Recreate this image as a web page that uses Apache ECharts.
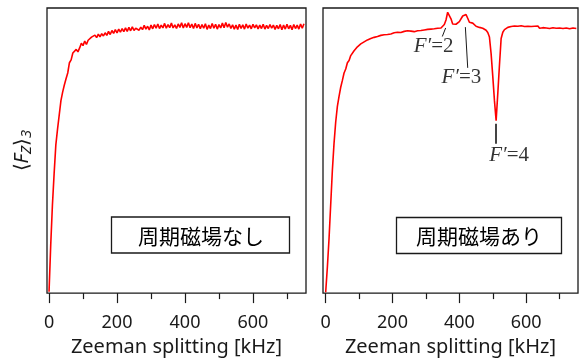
<!DOCTYPE html>
<html>
<head>
<meta charset="utf-8">
<script src="https://cdn.jsdelivr.net/npm/echarts@6/dist/echarts.min.js"></script>
<style>
  html, body { margin: 0; padding: 0; background: #fff; }
  #chart { width: 579px; height: 362px; }
</style>
</head>
<body>
<div id="chart"></div>
<script>
// Zeeman splitting sweep (kHz), shared by both panels
const splitting = [
  0, 5, 10, 15, 20, 25, 30, 35, 40, 45, 50, 55, 60, 65, 70, 75, 80, 85, 90, 95,
  100, 105, 110, 115, 120, 125, 130, 135, 140, 145, 150, 155, 160, 165, 170, 175, 180, 185, 190, 195,
  200, 205, 210, 215, 220, 225, 230, 235, 240, 245, 250, 255, 260, 265, 270, 275, 280, 285, 290, 295,
  300, 305, 310, 315, 320, 325, 330, 335, 340, 345, 350, 355, 360, 365, 370, 375, 380, 385, 390, 395,
  400, 405, 410, 415, 420, 425, 430, 435, 440, 445, 450, 455, 460, 465, 470, 475, 480, 485, 490, 495,
  500, 505, 510, 515, 520, 525, 530, 535, 540, 545, 550, 555, 560, 565, 570, 575, 580, 585, 590, 595,
  600, 605, 610, 615, 620, 625, 630, 635, 640, 645, 650, 655, 660, 665, 670, 675, 680, 685, 690, 695,
  700, 705, 710, 715, 720, 725, 730, 735, 740, 745, 750
];

// <Fz>_3 without the periodic field (normalised units)
const fzWithout = [
  0.005, 0.17, 0.31, 0.42, 0.52, 0.575, 0.625, 0.675, 0.705, 0.73, 0.752, 0.772, 0.808, 0.818, 0.842, 0.838, 0.855, 0.846, 0.86, 0.876,
  0.868, 0.884, 0.872, 0.887, 0.881, 0.898, 0.892, 0.905, 0.896, 0.908, 0.899, 0.91, 0.902, 0.913, 0.904, 0.918, 0.907, 0.921, 0.911, 0.924,
  0.913, 0.926, 0.915, 0.928, 0.917, 0.93, 0.918, 0.932, 0.92, 0.934, 0.921, 0.929, 0.936, 0.922, 0.933, 0.924, 0.939, 0.926, 0.936, 0.923,
  0.94, 0.927, 0.942, 0.929, 0.944, 0.928, 0.94, 0.93, 0.946, 0.929, 0.942, 0.931, 0.947, 0.93, 0.941, 0.928, 0.944, 0.932, 0.948, 0.93,
  0.945, 0.932, 0.948, 0.931, 0.944, 0.928, 0.946, 0.93, 0.943, 0.927, 0.942, 0.929, 0.945, 0.925, 0.94, 0.928, 0.946, 0.929, 0.943, 0.926,
  0.942, 0.93, 0.947, 0.931, 0.949, 0.933, 0.944, 0.928, 0.941, 0.926, 0.94, 0.925, 0.943, 0.928, 0.941, 0.926, 0.944, 0.929, 0.94, 0.927,
  0.943, 0.93, 0.941, 0.927, 0.94, 0.928, 0.943, 0.926, 0.939, 0.928, 0.942, 0.929, 0.94, 0.925, 0.939, 0.927, 0.942, 0.924, 0.94, 0.926,
  0.943, 0.927, 0.939, 0.924, 0.942, 0.928, 0.94, 0.926, 0.944, 0.929, 0.945
];

// <Fz>_3 with the periodic field: F'=2, F'=3 peaks and F'=4 dip
const fzWith = [
  0.003, 0.09, 0.19, 0.31, 0.43, 0.525, 0.6, 0.655, 0.69, 0.722, 0.746, 0.772, 0.786, 0.808, 0.816, 0.833, 0.836, 0.85, 0.851, 0.864,
  0.865, 0.874, 0.872, 0.881, 0.879, 0.888, 0.886, 0.893, 0.889, 0.897, 0.892, 0.9, 0.896, 0.904, 0.898, 0.906, 0.902, 0.907, 0.904, 0.909,
  0.906, 0.913, 0.907, 0.915, 0.91, 0.914, 0.912, 0.918, 0.913, 0.92, 0.915, 0.919, 0.922, 0.917, 0.924, 0.92, 0.926, 0.921, 0.927, 0.923,
  0.929, 0.925, 0.93, 0.926, 0.933, 0.927, 0.934, 0.929, 0.936, 0.93, 0.937, 0.942, 0.958, 0.985, 0.99, 0.962, 0.944, 0.94, 0.943, 0.944,
  0.952, 0.958, 0.972, 0.979, 0.977, 0.964, 0.95, 0.944, 0.947, 0.94, 0.936, 0.93, 0.932, 0.927, 0.929, 0.924, 0.922, 0.914, 0.898, 0.84,
  0.76, 0.675, 0.605, 0.7, 0.8, 0.893, 0.915, 0.924, 0.926, 0.932, 0.929, 0.935, 0.931, 0.937, 0.932, 0.936, 0.93, 0.938, 0.931, 0.935,
  0.93, 0.936, 0.931, 0.935, 0.929, 0.936, 0.932, 0.937, 0.929, 0.934, 0.931, 0.936, 0.93, 0.934, 0.928, 0.935, 0.931, 0.936, 0.929, 0.933,
  0.93, 0.935, 0.928, 0.933, 0.93, 0.934, 0.927, 0.933, 0.93, 0.932, 0.928
];

const majorTicks = [0, 200, 400, 600];
const minorTicks = [100, 300, 500, 700];
const panelNames = ['周期磁場なし', '周期磁場あり'];
const xTitle = 'Zeeman splitting [kHz]';

const toPairs = (ys) => splitting.map((x, i) => [x, ys[i]]);

const INK = '#1a1a1a';
const labelFont = 'Noto Sans';

// Each panel gets two bottom x axes over the same range:
// one carries the long labelled ticks, the other the short unlabelled ones.
function axisPair(gridIndex, min, max) {
  return [
    {
      type: 'value', gridIndex, min, max, position: 'bottom',
      axisLine: { show: false },
      splitLine: { show: false },
      axisTick: { show: true, customValues: majorTicks, length: 10, lineStyle: { color: INK, width: 1.2 } },
      axisLabel: { show: true, customValues: majorTicks, margin: 21, color: INK, fontSize: 18, fontFamily: labelFont },
      name: xTitle, nameLocation: 'middle', nameGap: 43,
      nameTextStyle: { color: INK, fontSize: 20, fontFamily: labelFont }
    },
    {
      type: 'value', gridIndex, min, max, position: 'bottom',
      axisLine: { show: false },
      splitLine: { show: false },
      axisTick: { show: true, customValues: minorTicks, length: 6, lineStyle: { color: INK, width: 1.2 } },
      axisLabel: { show: false }
    }
  ];
}

const chart = echarts.init(document.getElementById('chart'), null, { renderer: 'canvas' });

const lineStyle = { color: '#ff0000', width: 1.6 };
const noteRich = {
  i: { fontFamily: 'Liberation Serif', fontStyle: 'italic', fontSize: 21, color: '#000' },
  n: { fontFamily: 'Liberation Serif', fontSize: 21, color: '#000' }
};

chart.setOption({
  animation: false,
  backgroundColor: '#ffffff',
  grid: [
    { left: 47, top: 8, width: 259, height: 288, show: true, borderColor: INK, borderWidth: 1.3, backgroundColor: 'transparent' },
    { left: 323, top: 8, width: 255, height: 288, show: true, borderColor: INK, borderWidth: 1.3, backgroundColor: 'transparent' }
  ],
  xAxis: [...axisPair(0, -6, 756), ...axisPair(1, -8, 755)],
  yAxis: [
    {
      type: 'value', gridIndex: 0, min: 0, max: 1,
      axisLine: { show: false }, axisTick: { show: false }, axisLabel: { show: false }, splitLine: { show: false },
      name: '⟨{i|F}{s|Z}⟩{s|3}', nameLocation: 'middle', nameRotate: 90, nameGap: 13,
      nameTextStyle: {
        color: INK, fontSize: 20, fontFamily: labelFont, lineHeight: 24,
        rich: {
          i: { fontStyle: 'italic', fontSize: 20, fontFamily: labelFont, color: INK, lineHeight: 24 },
          s: { fontStyle: 'italic', fontSize: 15, fontFamily: labelFont, color: INK, verticalAlign: 'bottom', lineHeight: 24 }
        }
      }
    },
    {
      type: 'value', gridIndex: 1, min: 0, max: 1,
      axisLine: { show: false }, axisTick: { show: false }, axisLabel: { show: false }, splitLine: { show: false }
    }
  ],
  series: [
    {
      type: 'line', xAxisIndex: 0, yAxisIndex: 0, data: toPairs(fzWithout),
      showSymbol: false, symbol: 'none', lineStyle, silent: true
    },
    {
      type: 'line', xAxisIndex: 2, yAxisIndex: 1, data: toPairs(fzWith),
      showSymbol: false, symbol: 'none', lineStyle, silent: true,
      markLine: {
        silent: true, symbol: 'none', label: { show: false },
        data: [
          [{ coord: [359, 0.93], lineStyle: { color: INK, width: 1, type: 'solid' } }, { coord: [349, 0.90] }],
          [{ coord: [418, 0.933], lineStyle: { color: INK, width: 1, type: 'solid' } }, { coord: [425, 0.79] }],
          [{ coord: [510, 0.594], lineStyle: { color: '#444', width: 2, type: 'solid' } }, { coord: [510, 0.524] }]
        ]
      }
    },
    {
      type: 'scatter', xAxisIndex: 2, yAxisIndex: 1, symbolSize: 0, silent: true,
      data: [
        { value: [323, 0.865], name: '2' },
        { value: [406, 0.757], name: '3' },
        { value: [549, 0.481], name: '4' }
      ],
      label: {
        show: true, position: 'inside',
        formatter: (p) => '{i|F′}{n|=' + p.name + '}',
        rich: noteRich
      }
    }
  ],
  graphic: [
    {
      type: 'group', children: [
        { type: 'rect', shape: { x: 111.5, y: 217, width: 178, height: 36 }, style: { fill: '#fff', stroke: INK, lineWidth: 1.3 } },
        { type: 'text', x: 201, y: 236, style: { text: panelNames[0], font: '21px "Noto Sans CJK JP"', fill: '#000', align: 'center', verticalAlign: 'middle' } },
        { type: 'rect', shape: { x: 396.5, y: 217.5, width: 165, height: 36 }, style: { fill: '#fff', stroke: INK, lineWidth: 1.3 } },
        { type: 'text', x: 479, y: 236, style: { text: panelNames[1], font: '21px "Noto Sans CJK JP"', fill: '#000', align: 'center', verticalAlign: 'middle' } }
      ]
    }
  ]
});
</script>
</body>
</html>
